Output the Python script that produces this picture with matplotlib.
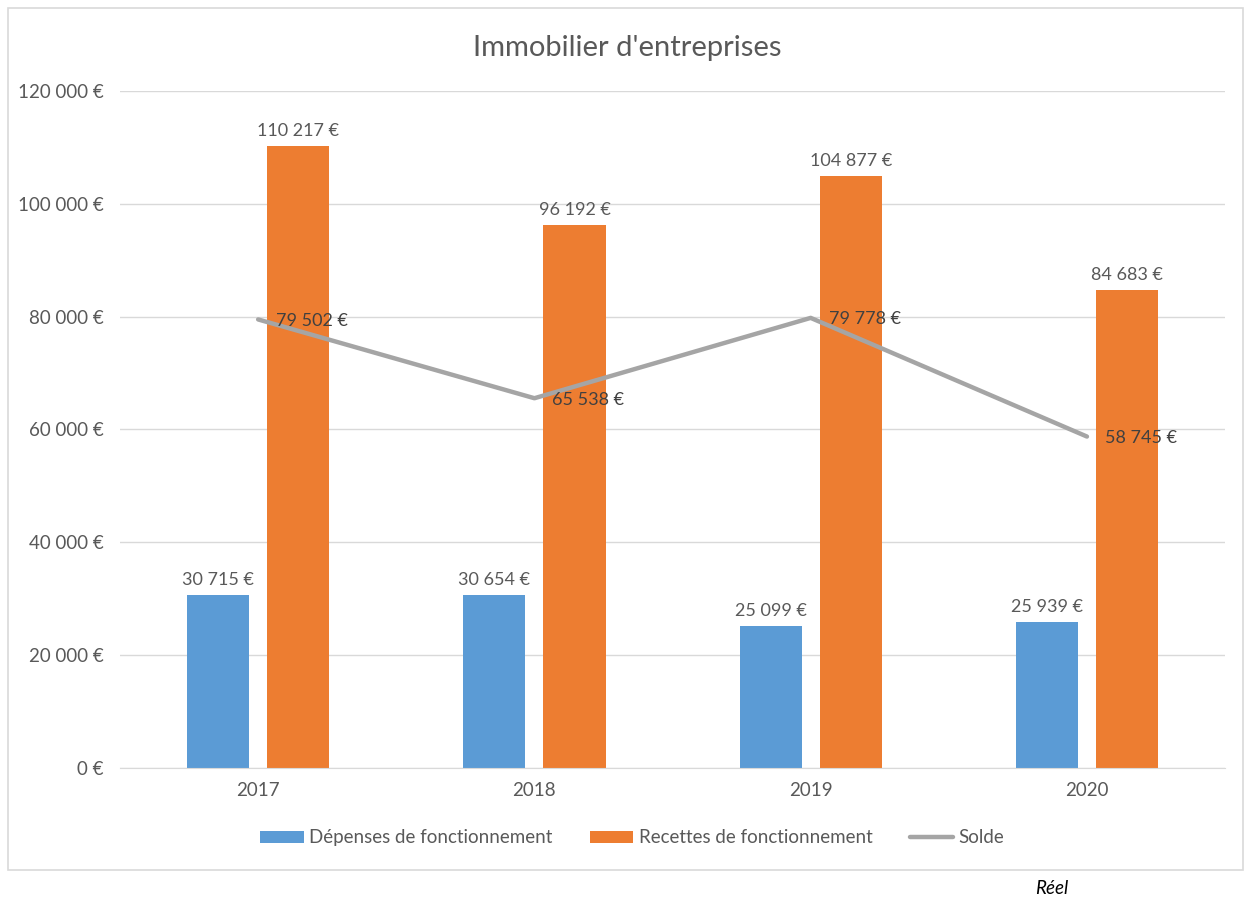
import matplotlib
matplotlib.use("Agg")
import matplotlib.pyplot as plt
import numpy as np
from matplotlib.patches import Rectangle

plt.rcParams["font.family"] = ["Lato", "DejaVu Sans"]

# ============== DATA ==============
years = ["2017", "2018", "2019", "2020"]
depenses = [30715, 30654, 25099, 25939]
recettes = [110217, 96192, 104877, 84683]
solde = [79502, 65538, 79778, 58745]
yticks = [0, 20000, 40000, 60000, 80000, 100000, 120000]

BLUE = "#5B9BD5"
ORANGE = "#ED7D31"
GREY = "#A5A5A5"
TXT = "#595959"


def euro(v):
    return f"{v:,}".replace(",", " ") + " €"


fig = plt.figure(figsize=(12.45, 8.98), dpi=100)
# outer chart frame
fig.patches.append(Rectangle((0.0064, 0.0312), 0.992, 0.96, transform=fig.transFigure,
                             fill=False, edgecolor="#D9D9D9", linewidth=1.2))

ax = fig.add_axes([0.0964, 0.1448, 0.8876, 0.7539])
x = np.arange(len(years))
off, w = 0.145, 0.225
b1 = ax.bar(x - off, depenses, width=w, color=BLUE, label="Dépenses de fonctionnement", zorder=2)
b2 = ax.bar(x + off, recettes, width=w, color=ORANGE, label="Recettes de fonctionnement", zorder=2)
ax.plot(x, solde, color=GREY, linewidth=3.2, label="Solde", zorder=3, solid_capstyle="round")

for xi, v in zip(x - off, depenses):
    ax.annotate(euro(v), (xi, v), xytext=(0, 5), textcoords="offset points",
                ha="center", va="bottom", fontsize=13, color=TXT)
for xi, v in zip(x + off, recettes):
    ax.annotate(euro(v), (xi, v), xytext=(0, 5), textcoords="offset points",
                ha="center", va="bottom", fontsize=13, color=TXT)
for xi, v in zip(x, solde):
    ax.annotate(euro(v), (xi, v), xytext=(13, -1), textcoords="offset points",
                ha="left", va="center", fontsize=13, color="#404040", zorder=4)

ax.set_xlim(-0.5, 3.5)
ax.set_ylim(0, 120000)
ax.set_yticks(yticks)
ax.set_yticklabels([euro(t) for t in yticks])
ax.set_xticks(x)
ax.set_xticklabels(years)
ax.tick_params(axis="both", length=0, labelsize=13.5, labelcolor=TXT)
ax.tick_params(axis="y", pad=12)
ax.tick_params(axis="x", pad=10)
ax.grid(axis="y", color="#D9D9D9", linewidth=1, zorder=0)
ax.set_axisbelow(True)
for s in ["top", "right", "left"]:
    ax.spines[s].set_visible(False)
ax.spines["bottom"].set_color("#D9D9D9")

fig.text(0.504, 0.946, "Immobilier d'entreprises", ha="center", va="center",
         fontsize=21, color=TXT)

fig.legend(handles=[b1, b2, ax.lines[0]], loc="center", bbox_to_anchor=(0.508, 0.067),
           ncol=3, frameon=False, fontsize=13.5, labelcolor=TXT, handlelength=2.3,
           handleheight=0.6, handletextpad=0.3, columnspacing=2.0)

fig.text(0.845, 0.011, "Réel", ha="center", va="center", fontsize=13.5,
         style="italic", color="black")

fig.savefig("out.png", dpi=100)
